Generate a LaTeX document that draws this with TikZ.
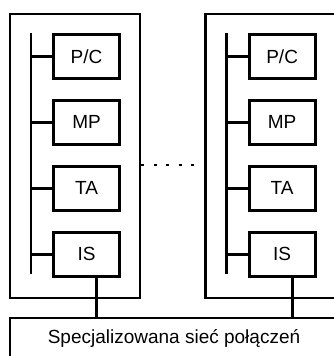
\documentclass[tikz,border=0pt]{standalone}
\usepackage{fontspec}
\setmainfont{Liberation Sans}
\usetikzlibrary{calc}
\begin{document}
\begin{tikzpicture}[x=1pt,y=-1pt,
  wire/.style={line width=2.7pt},
  frame/.style={draw,line width=2.7pt,inner sep=0pt,minimum width=130pt,minimum height=284pt},
  unit/.style={draw,line width=2.7pt,inner sep=0pt,minimum width=66pt,minimum height=44pt,
    font=\fontsize{19}{21}\selectfont},
  netbox/.style={draw,line width=2.7pt,inner sep=0pt,minimum width=325.6pt,minimum height=60pt,
    anchor=north west},
  dotted link/.style={line width=2.7pt,dash pattern=on 2.7pt off 9.8pt}]
\useasboundingbox (0,0) rectangle (334,356);
\begin{scope}
\clip (0,0) rectangle (334,356);
% interconnection network across the bottom
\node[netbox] (net) at (8.7,316.7) {};
\node[font=\fontsize{19}{21}\selectfont] (netlabel) at (174,338.5) {Specjalizowana sieć połączeń};
% two processing nodes
\foreach \n/\x in {L/8.7,R/204.3}{
  \node[frame,anchor=north west] (frame\n) at (\x,12.7) {};
  \coordinate (bustop\n) at ($(frame\n.north west)+(22.3,20.3)$);
  \coordinate (busbot\n) at ($(frame\n.north west)+(22.3,261.3)$);
  \draw[wire] (bustop\n) -- (busbot\n);
  \foreach \t/\lbl [count=\i from 0] in {pc/P\slash C,mp/MP,ta/TA,is/IS}{
    \node[unit,anchor=north west] (\t\n) at ($(frame\n.north west)+(43.5,20.3+66*\i)$) {\lbl};
    \draw[wire] (\t\n.west) -- (\t\n.west -| bustop\n);
  }
  \coordinate (tap\n) at ($(is\n.south west)+(44.5,0)$);
  \draw[wire] (tap\n) -- (tap\n |- net.north);
}
\end{scope}
% ellipsis between the nodes
\draw[dotted link] (frameL.east |- taL.north) -- (frameR.west |- taR.north);
\end{tikzpicture}
\end{document}
